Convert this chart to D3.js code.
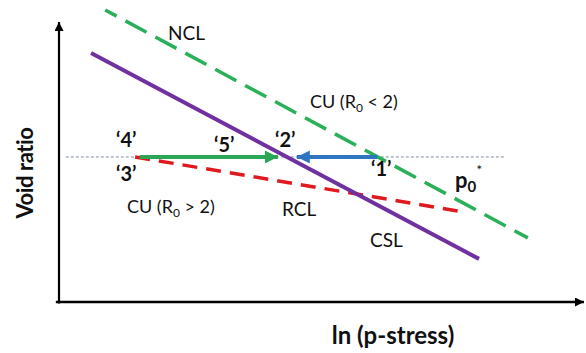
<!DOCTYPE html>
<html>
<head>
<meta charset="utf-8">
<script src="https://cdn.jsdelivr.net/npm/d3@7"></script>
<style>
  body { margin: 0; background: #fff; }
  text { font-family: Lato, "Open Sans", sans-serif; fill: #111; }
</style>
</head>
<body>
<div id="display"></div>
<script>
var width = 586,
    height = 353;

// schematic lines in (ln p, void ratio) units
var lineNames = ["NCL", "CSL", "RCL", "p0"];
var lineLnP = [[0.88, 8.93], [0.61, 8.0], [1.45, 7.73], [0.13, 8.48]];
var lineE = [[10.43, 2.29], [8.89, 1.54], [5.18, 3.21], [5.18, 5.18]];

// stress paths (arrows)
var pathNames = ["CU (R0 > 2)", "CU (R0 < 2)"];
var pathLnP = [[1.54, 4.17], [6.06, 4.53]];
var pathE = [[5.18, 5.18], [5.18, 5.18]];

var svg = d3.select("#display")
    .append("svg")
    .attr("width", width)
    .attr("height", height);

var x = d3.scaleLinear().domain([0, 10]).range([59, 584]);
var y = d3.scaleLinear().domain([0, 10]).range([302, 22]);

var defs = svg.append("defs");
function marker(id, color, w, h) {
    defs.append("marker")
        .attr("id", id)
        .attr("viewBox", "0 0 10 10")
        .attr("refX", 10).attr("refY", 5)
        .attr("markerUnits", "userSpaceOnUse")
        .attr("markerWidth", w).attr("markerHeight", h)
        .attr("orient", "auto")
        .append("path")
        .attr("d", "M0,0 L10,5 L0,10 Z")
        .attr("fill", color);
}
marker("axArrow", "#000", 12, 9);
marker("greenHead", "#2aa655", 14, 13);
marker("blueHead", "#2e75c0", 14, 13);

// axes
svg.append("line")
    .attr("x1", x(0)).attr("y1", y(-0.05))
    .attr("x2", x(0)).attr("y2", y(10))
    .attr("stroke", "#000").attr("stroke-width", 2.2)
    .attr("marker-end", "url(#axArrow)");
svg.append("line")
    .attr("x1", x(-0.06)).attr("y1", y(0))
    .attr("x2", x(10)).attr("y2", y(0))
    .attr("stroke", "#000").attr("stroke-width", 2.4)
    .attr("marker-end", "url(#axArrow)");

var styles = {
    NCL: { color: "#2bb05a", w: 3.5, dash: "24,10", off: 11 },
    CSL: { color: "#7030a0", w: 4, dash: null, off: 0 },
    RCL: { color: "#e0191f", w: 3.5, dash: "15,9", off: 0 },
    p0: { color: "#7f8ea0", w: 1, dash: "3,2", off: 0 }
};

var lineGen = d3.line().x(d => x(d[0])).y(d => y(d[1]));

// draw p0 reference line first, then the rest
var order = [3, 2, 0, 1];
order.forEach(function (i) {
    var pts = lineLnP[i].map((v, j) => [v, lineE[i][j]]);
    var s = styles[lineNames[i]];
    svg.append("path")
        .attr("d", lineGen(pts))
        .attr("fill", "none")
        .attr("stroke", s.color)
        .attr("stroke-width", s.w)
        .attr("stroke-dasharray", s.dash)
        .attr("stroke-dashoffset", s.off);
});

// arrows
var arrowColors = ["#2aa655", "#2e75c0"];
var arrowHeads = ["greenHead", "blueHead"];
pathNames.forEach(function (n, i) {
    svg.append("line")
        .attr("x1", x(pathLnP[i][0])).attr("y1", y(pathE[i][0]))
        .attr("x2", x(pathLnP[i][1])).attr("y2", y(pathE[i][1]))
        .attr("stroke", arrowColors[i])
        .attr("stroke-width", 4)
        .attr("marker-end", "url(#" + arrowHeads[i] + ")");
});

// labels
function label(tx, ty, str, size, bold) {
    return svg.append("text")
        .attr("x", tx).attr("y", ty)
        .attr("font-size", size)
        .attr("font-weight", bold ? "bold" : "normal")
        .text(str);
}
label(168, 40, "NCL", 19, false);
label(282, 216, "RCL", 19, false);
label(370, 247, "CSL", 19, false);

function cuLabel(tx, ty, sign) {
    var t = svg.append("text").attr("x", tx).attr("y", ty).attr("font-size", 18);
    t.append("tspan").text("CU (R");
    t.append("tspan").attr("font-size", 12).attr("dy", 4).text("0");
    t.append("tspan").attr("dy", -4).text(" " + sign + " 2)");
}
cuLabel(310, 108, "<");
cuLabel(127, 213, ">");

label(116, 147, "\u20184\u2019", 20, true);
label(214, 152, "\u20185\u2019", 20, true);
label(275, 147, "\u20182\u2019", 20, true);
label(116, 181, "\u20183\u2019", 20, true);
label(371, 176, "\u20181\u2019", 20, true);

var p0 = svg.append("text").attr("x", 455).attr("y", 188)
    .attr("font-size", 22).attr("font-weight", "bold");
p0.append("tspan").text("p");
p0.append("tspan").attr("font-size", 15).attr("dy", 4).text("0");
p0.append("tspan").attr("font-size", 14).attr("dy", -17).attr("font-weight", "normal").text("*");

// axis titles
svg.append("text")
    .attr("x", 393).attr("y", 344)
    .attr("text-anchor", "middle")
    .attr("font-size", 24).attr("font-weight", "bold")
    .text("ln (p-stress)");
svg.append("text")
    .attr("transform", "translate(33,173) rotate(-90)")
    .attr("text-anchor", "middle")
    .attr("font-size", 22).attr("font-weight", "bold")
    .attr("letter-spacing", -0.4)
    .text("Void ratio");
</script>
</body>
</html>
